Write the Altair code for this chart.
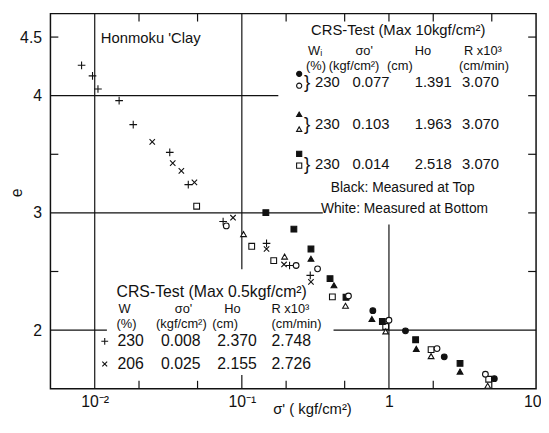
import altair as alt
import pandas as pd

# ---------------- data ----------------
# CRS-Test (Max 0.5 kgf/cm2)
plus_x = [0.00814, 0.00966, 0.01052, 0.01465, 0.01827, 0.03236, 0.04324, 0.0746, 0.1472, 0.2110, 0.2918]
plus_y = [4.259, 4.169, 4.057, 3.958, 3.753, 3.516, 3.241, 2.926, 2.740, 2.551, 2.467]
cross_x = [0.0246, 0.0339, 0.0388, 0.0476, 0.0871, 0.1472, 0.1935, 0.2950]
cross_y = [3.606, 3.424, 3.359, 3.260, 2.959, 2.692, 2.560, 2.411]

# CRS-Test (Max 10 kgf/cm2)
ci_top_x = [0.777, 1.295, 2.376, 5.202]
ci_top_y = [2.166, 1.994, 1.772, 1.586]
ci_bot_x = [0.0784, 0.2339, 0.3271, 0.5306, 1.0, 2.122, 4.525]
ci_bot_y = [2.889, 2.551, 2.523, 2.291, 2.084, 1.842, 1.623]
tri_top_x = [0.2950, 0.4228, 0.7656, 1.534, 3.042]
tri_top_y = [2.608, 2.382, 2.095, 1.840, 1.646]
tri_bot_x = [0.1027, 0.1953, 0.5067, 0.950, 1.934, 4.690]
tri_bot_y = [2.819, 2.627, 2.208, 1.989, 1.778, 1.525]
sq_top_x = [0.1456, 0.2258, 0.2950, 0.3976, 0.5106, 0.902, 1.518, 3.042]
sq_top_y = [3.002, 2.861, 2.692, 2.439, 2.280, 2.073, 1.918, 1.716]
sq_bot_x = [0.0493, 0.1167, 0.1647, 0.4125, 0.950, 1.934, 4.764]
sq_bot_y = [3.057, 2.715, 2.593, 2.284, 2.031, 1.834, 1.581]

# axes
x_domain = [0.005, 10]
y_domain = [1.5, 4.7]
x_label_values = [0.01, 0.1, 1, 10]
y_label_values = [2, 3, 4, 4.5]
x_ticks_bottom = [0.02, 0.05, 0.2, 0.5, 2, 5]
x_ticks_bottom_major = [0.1]
x_ticks_top = [0.02, 0.05, 0.2, 0.5, 1, 2, 5]
y_ticks_left = [2.5, 3.5, 4.5]
y_ticks_right = [2.5, 3, 3.5, 4, 4.5]

# grid segments
hgrid_y = [4, 3, 2, 2]
hgrid_from = [0.005, 0.005, 0.005, 0.42]
hgrid_to = [0.177, 0.355, 0.0121, 10]
vgrid_x = [0.01, 0.1, 1]
vgrid_from = [1.5, 2.52, 1.5]
vgrid_to = [4.7, 4.7, 2.9]

# annotation texts (label, x px, y px, font size) relative to plot area
texts_labels = [
    "Honmoku 'Clay",
    "CRS-Test (Max 10kgf/cm²)",
    "Wᵢ", "σo'", "Ho", "R x10³",
    "(%)", "(kgf/cm²)", "(cm)", "(cm/min)",
    "}", "230", "0.077", "1.391", "3.070",
    "}", "230", "0.103", "1.963", "3.070",
    "}", "230", "0.014", "2.518", "3.070",
    "Black: Measured at Top", "White: Measured at Bottom",
    "CRS-Test (Max 0.5kgf/cm²)",
    "W", "σo'", "Ho", "R x10³",
    "(%)", "(kgf/cm²)", "(cm)", "(cm/min)",
    "230", "0.008", "2.370", "2.748",
    "206", "0.025", "2.155", "2.726",
]
texts_px = [
    51,
    264,
    261, 309, 369, 419,
    259, 282, 341, 414,
    257, 268, 306, 369, 417,
    257, 268, 306, 369, 417,
    257, 268, 306, 369, 417,
    284, 274,
    67,
    69, 126, 176, 224,
    67, 107, 164, 224,
    68, 112, 169, 224,
    68, 112, 169, 224,
]
texts_py = [
    25,
    17,
    38, 38, 38, 38,
    53, 53, 53, 53,
    69, 69, 69, 69, 69,
    112, 112, 112, 112, 112,
    152, 152, 152, 152, 152,
    177, 198,
    282,
    299, 299, 299, 299,
    314, 314, 314, 314,
    332, 332, 332, 332,
    355, 355, 355, 355,
]
texts_fs = [
    15,
    15,
    13, 13, 13, 13,
    13, 13, 13, 13,
    19, 15, 15, 15, 15,
    19, 15, 15, 15, 15,
    19, 15, 15, 15, 15,
    14, 14,
    16,
    13, 13, 13, 13,
    13, 13, 13, 13,
    16, 16, 16, 16,
    16, 16, 16, 16,
]

# legend symbols (style, x px, y px)
legend_sym_style = ["ci_top", "ci_bot", "tri_top", "tri_bot", "sq_top", "sq_bot", "plus", "cross"]
legend_sym_px = [252, 252, 252, 252, 252, 252, 55, 55]
legend_sym_py = [61, 73, 102, 117, 142, 154, 332, 355]

# ---------------- chart ----------------
W, H = 492, 380
FONT = "Liberation Sans"
INK = "#111111"

x_axis = alt.Axis(
    values=x_label_values,
    labelExpr="datum.value < 0.05 ? '10⁻²' : datum.value < 0.5 ? '10⁻¹' : datum.value < 5 ? '1' : '10'",
    ticks=False, domain=False, grid=False,
    labelFont=FONT, labelFontSize=16, labelColor=INK, labelPadding=5,
    labelOverlap=False, labelFlush=True, labelFlushOffset=5,
    title="σ' ( kgf/cm²)", titleFont=FONT, titleFontSize=15, titleFontWeight="normal",
    titleColor=INK, titleX=265, titleY=25, titleBaseline="alphabetic", titleAlign="center",
)
y_axis = alt.Axis(
    values=y_label_values,
    labelExpr="'' + datum.value",
    ticks=False, domain=False, grid=False,
    labelFont=FONT, labelFontSize=16, labelColor=INK, labelPadding=9,
    labelOverlap=False, labelFlush=False,
    title="e", titleFont=FONT, titleFontSize=16, titleFontWeight="normal",
    titleColor=INK, titleX=-34, titleY=181, titleAngle=270,
    titleBaseline="middle", titleAlign="center",
)
x_scale = alt.Scale(type="log", domain=x_domain, nice=False)
y_scale = alt.Scale(type="linear", domain=y_domain, nice=False, zero=False)


def X(f):
    return alt.X(f"{f}:Q", scale=x_scale, axis=x_axis)


def Y(f):
    return alt.Y(f"{f}:Q", scale=y_scale, axis=y_axis)


layers = []

# grid segments
hg = pd.DataFrame({"y": hgrid_y, "xa": hgrid_from, "xb": hgrid_to})
layers.append(alt.Chart(hg).mark_rule(color=INK, strokeWidth=1.2).encode(
    y=Y("y"), x=X("xa"), x2="xb"))
vg = pd.DataFrame({"x": vgrid_x, "ya": vgrid_from, "yb": vgrid_to})
layers.append(alt.Chart(vg).mark_rule(color=INK, strokeWidth=1.2).encode(
    x=X("x"), y=Y("ya"), y2="yb"))

# inward ticks
layers.append(alt.Chart(pd.DataFrame({"v": x_ticks_bottom})).mark_rule(color=INK, strokeWidth=1.2).encode(
    x=X("v"), y=alt.value(H), y2=alt.value(H - 8)))
layers.append(alt.Chart(pd.DataFrame({"v": x_ticks_bottom_major})).mark_rule(color=INK, strokeWidth=1.2).encode(
    x=X("v"), y=alt.value(H), y2=alt.value(H - 14)))
layers.append(alt.Chart(pd.DataFrame({"v": x_ticks_top})).mark_rule(color=INK, strokeWidth=1.2).encode(
    x=X("v"), y=alt.value(0), y2=alt.value(8)))
layers.append(alt.Chart(pd.DataFrame({"v": y_ticks_left})).mark_rule(color=INK, strokeWidth=1.2).encode(
    y=Y("v"), x=alt.value(0), x2=alt.value(8)))
layers.append(alt.Chart(pd.DataFrame({"v": y_ticks_right})).mark_rule(color=INK, strokeWidth=1.2).encode(
    y=Y("v"), x=alt.value(W), x2=alt.value(W - 8)))

styles = {
    "ci_top": dict(shape="circle", filled=True, fill=INK, size=34),
    "ci_bot": dict(shape="circle", filled=True, fill="white", size=34),
    "tri_top": dict(shape="triangle-up", filled=True, fill=INK, size=34),
    "tri_bot": dict(shape="triangle-up", filled=True, fill="white", size=34),
    "sq_top": dict(shape="square", filled=True, fill=INK, size=34),
    "sq_bot": dict(shape="square", filled=True, fill="white", size=34),
    "plus": dict(shape="M-1,0L1,0M0,-1L0,1", filled=False, size=60),
    "cross": dict(shape="M-1,-1L1,1M-1,1L1,-1", filled=False, size=30),
}
series = [
    ("plus", plus_x, plus_y),
    ("cross", cross_x, cross_y),
    ("sq_bot", sq_bot_x, sq_bot_y),
    ("tri_bot", tri_bot_x, tri_bot_y),
    ("sq_top", sq_top_x, sq_top_y),
    ("tri_top", tri_top_x, tri_top_y),
    ("ci_top", ci_top_x, ci_top_y),
    ("ci_bot", ci_bot_x, ci_bot_y),
]


def mk(style):
    s = styles[style]
    kw = dict(shape=s["shape"], filled=s["filled"], size=s["size"], stroke=INK,
              strokeWidth=1.1, opacity=1)
    if s["filled"]:
        kw["fill"] = s["fill"]
    return kw


for style, xs, ys in series:
    df = pd.DataFrame({"x": xs, "y": ys})
    layers.append(alt.Chart(df).mark_point(**mk(style)).encode(x=X("x"), y=Y("y")))

# legend symbols (pixel positioned)
for st, px, py in zip(legend_sym_style, legend_sym_px, legend_sym_py):
    df = pd.DataFrame({"px": [px], "py": [py]})
    kw = mk(st)
    kw["size"] = kw["size"] * 0.8
    layers.append(alt.Chart(df).mark_point(**kw).encode(
        x=alt.X("px:Q", scale=None, axis=None),
        y=alt.Y("py:Q", scale=None, axis=None)))

# annotation texts
tdf = pd.DataFrame({"label": texts_labels, "px": texts_px, "py": texts_py, "fs": texts_fs})
layers.append(alt.Chart(tdf).mark_text(align="left", baseline="middle", font=FONT, color=INK).encode(
    x=alt.X("px:Q", scale=None, axis=None),
    y=alt.Y("py:Q", scale=None, axis=None),
    text="label:N",
    size=alt.Size("fs:Q", scale=None, legend=None)))

chart = alt.layer(*layers).properties(
    width=W, height=H,
    autosize=alt.AutoSizeParams(type="none"),
    padding={"left": 43, "top": 3, "right": 5, "bottom": 29},
    background="white",
).configure_view(stroke=INK, strokeWidth=1.5)

chart.save("out.html", embed_options={"renderer": "svg", "actions": False})
